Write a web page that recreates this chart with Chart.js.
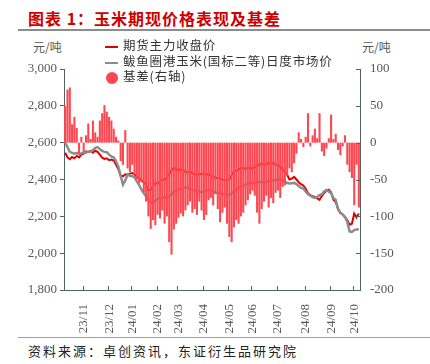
<!DOCTYPE html>
<html>
<head>
<meta charset="utf-8">
<script src="https://cdn.jsdelivr.net/npm/chart.js@4/dist/chart.umd.min.js"></script>
<style>
  body { margin: 0; width: 430px; height: 364px; background: #fff; position: relative; overflow: hidden;
         font-family: "Noto Sans CJK SC", sans-serif; }
  .abs { position: absolute; white-space: nowrap; }
  #title { left: 28px; top: 6px; color: #d00000; font-size: 16px; font-weight: bold; letter-spacing: 1px; }
  #titleLine { left: 18px; top: 29px; width: 412px; height: 2px; background: #8c8c8c; }
  #footLine { left: 18px; top: 337px; width: 412px; height: 1px; background: #a0a0a0; }
  #foot { left: 28px; top: 341px; font-size: 13px; color: #222; letter-spacing: 2px; }
  .unit { top: 38px; font-size: 12px; color: #555; }
  #chartBox { left: 0; top: 30px; width: 430px; height: 306px; }
  .leg { font-size: 12.5px; color: #333; left: 105px; letter-spacing: 0.8px; }
  .leg i { display: inline-block; vertical-align: middle; margin-right: 5px; }
</style>
</head>
<body>
<div class="abs" id="title">图表 1：玉米期现价格表现及基差</div>
<div class="abs" id="titleLine"></div>
<div class="abs unit" style="left:33px">元/吨</div>
<div class="abs unit" style="left:362px">元/吨</div>
<div class="abs" id="chartBox"><canvas id="chart" width="430" height="306"></canvas></div>
<div class="abs leg" style="top:35px"><i style="width:13px;height:2px;background:#e00000"></i>期货主力收盘价</div>
<div class="abs leg" style="top:51px"><i style="width:13px;height:2px;background:#8c8c8c"></i>鲅鱼圈港玉米(国标二等)日度市场价</div>
<div class="abs leg" style="top:66px;left:106px"><i style="width:12px;height:12px;border-radius:50%;background:#ff4650"></i>基差(右轴)</div>
<div class="abs" id="footLine"></div>
<div class="abs" id="foot">资料来源：卓创资讯，东证衍生品研究院</div>

<script>
// month labels and how many points fall in each month (first block is the tail of 23/10, unlabeled)
const months = ['', '23/11', '23/12', '24/01', '24/02', '24/03', '24/04', '24/05', '24/06', '24/07', '24/08', '24/09', '24/10'];
const monthCounts = [8, 11, 10, 11, 9, 11, 11, 10, 11, 12, 11, 10, 3];

// 期货主力收盘价
const futures = [
  2545, 2520, 2510, 2522, 2515, 2528, 2520, 2535, 2540, 2552, 2548, 2555, 2545, 2556, 2550, 2535,
  2518, 2512, 2515, 2505, 2508, 2503, 2480, 2455, 2420, 2418, 2428, 2425, 2432, 2435, 2428, 2414,
  2408, 2395, 2385, 2370, 2340, 2345, 2365, 2380, 2378, 2390, 2400, 2398, 2410, 2430, 2450, 2465,
  2458, 2450, 2455, 2448, 2442, 2438, 2445, 2435, 2428, 2425, 2430, 2428, 2432, 2425, 2430, 2420,
  2415, 2410, 2408, 2405, 2400, 2398, 2395, 2400, 2425, 2445, 2448, 2455, 2460, 2462, 2458, 2465,
  2462, 2460, 2468, 2475, 2480, 2488, 2478, 2482, 2490, 2485, 2492, 2480, 2478, 2470, 2455, 2440,
  2425, 2400, 2405, 2414, 2400, 2385, 2375, 2368, 2350, 2325, 2315, 2310, 2305, 2298, 2290, 2310,
  2327, 2340, 2345, 2330, 2290, 2278, 2240, 2218, 2210, 2196, 2180, 2155, 2160, 2215, 2195, 2215
];

// 鲅鱼圈港玉米(国标二等)日度市场价
const spot = [
  2600, 2575, 2550, 2545, 2540, 2545, 2538, 2542, 2548, 2545, 2552, 2550, 2560, 2572, 2576, 2565,
  2555, 2550, 2548, 2535, 2525, 2520, 2500, 2470, 2420, 2372, 2395, 2428, 2420, 2418, 2412, 2390,
  2370, 2345, 2325, 2310, 2290, 2275, 2272, 2285, 2295, 2300, 2298, 2305, 2302, 2310, 2320, 2335,
  2340, 2345, 2350, 2352, 2358, 2355, 2350, 2345, 2340, 2338, 2335, 2332, 2335, 2340, 2343, 2340,
  2335, 2330, 2327, 2325, 2320, 2318, 2316, 2316, 2325, 2335, 2345, 2354, 2360, 2365, 2372, 2378,
  2380, 2381, 2383, 2385, 2386, 2387, 2387, 2388, 2390, 2392, 2395, 2397, 2398, 2398, 2397, 2390,
  2381, 2378, 2380, 2382, 2375, 2365, 2355, 2350, 2335, 2320, 2312, 2305, 2300, 2305, 2315, 2320,
  2335, 2343, 2335, 2325, 2300, 2289, 2240, 2220, 2210, 2196, 2170, 2118, 2115, 2125, 2128, 2130
];

// 基差(右轴)
const basis = [
  50, 72, 75, 25, 35, 20, -15, 8, -12, 10, 26, 5, 30, 14, 8, 30,
  40, 51, 42, 35, 30, 19, 8, 3, -25, -30, 17, -35, -40, -30, -44, -50,
  -55, -53, -67, -80, -100, -117, -105, -112, -98, -103, -92, -110, -100, -135, -152, -118,
  -110, -102, -96, -100, -92, -85, -80, -95, -90, -98, -80, -92, -105, -98, -78, -75,
  -85, -70, -90, -108, -95, -88, -110, -128, -135, -115, -105, -110, -100, -95, -85, -78,
  -70, -65, -72, -95, -110, -90, -80, -72, -88, -75, -82, -68, -65, -75, -60, -58,
  -45, -35, -40, -28, -15, 14, 5, -6, 8, 40, -5, 10, 19, 6, 40, -12,
  -18, -8, 6, 38, 5, 12, -10, -17, -5, 10, -30, -40, -48, -85, -30, -88
];

const leftTicks = [1800, 2000, 2200, 2400, 2600, 2800, 3000];
const rightTicks = [-200, -150, -100, -50, 0, 50, 100];

const labels = [];
const monthStarts = [];
months.forEach((m, k) => {
  monthStarts.push(labels.length);
  for (let j = 0; j < monthCounts[k]; j++) labels.push(j === 0 ? m : '');
});

const axisColor = '#506464';
const tickFont = { family: '"Liberation Serif", "Times New Roman", serif', size: 13 };

// inward tick marks for the right axis and the x axis
const innerTicks = {
  id: 'innerTicks',
  afterDraw(chart) {
    const { ctx, chartArea } = chart;
    const x = chart.scales.x, y2 = chart.scales.y2;
    ctx.save();
    ctx.strokeStyle = axisColor;
    ctx.lineWidth = 1;
    ctx.beginPath();
    rightTicks.forEach(v => {
      const py = Math.round(y2.getPixelForValue(v)) + 0.5;
      ctx.moveTo(chartArea.right - 4, py);
      ctx.lineTo(chartArea.right, py);
    });
    const step = x.getPixelForValue(1) - x.getPixelForValue(0);
    monthStarts.forEach((i, k) => {
      if (!months[k]) return;
      const px = Math.round(x.getPixelForValue(i) - step / 2) + 0.5;
      ctx.moveTo(px, chartArea.bottom - 4);
      ctx.lineTo(px, chartArea.bottom);
    });
    ctx.stroke();
    ctx.restore();
  }
};

new Chart(document.getElementById('chart'), {
  type: 'bar',
  data: {
    labels: labels,
    datasets: [
      {
        label: '基差(右轴)',
        data: basis,
        yAxisID: 'y2',
        backgroundColor: '#ff4650',
        barPercentage: 0.9,
        categoryPercentage: 1,
        order: 0
      },
      {
        label: '鲅鱼圈港玉米(国标二等)日度市场价',
        type: 'line',
        data: spot,
        yAxisID: 'y',
        borderColor: '#8c8c8c',
        borderWidth: 2.5,
        pointRadius: 0,
        tension: 0,
        order: 1
      },
      {
        label: '期货主力收盘价',
        type: 'line',
        data: futures,
        yAxisID: 'y',
        borderColor: '#e00000',
        borderWidth: 2,
        pointRadius: 0,
        tension: 0,
        order: 2
      }
    ]
  },
  options: {
    responsive: false,
    animation: false,
    layout: { padding: { top: 39, left: 0, right: 0, bottom: 0 } },
    plugins: { legend: { display: false }, tooltip: { enabled: false } },
    scales: {
      x: {
        offset: true,
        afterFit: s => { s.height = 46; },
        grid: { display: false },
        border: { color: axisColor },
        ticks: {
          autoSkip: false,
          maxRotation: 90,
          minRotation: 90,
          padding: 6,
          color: '#595959',
          font: tickFont,
          callback: (v, i) => labels[i] || null
        }
      },
      y: {
        position: 'left',
        min: 1800,
        max: 3000,
        afterFit: s => { s.width = 64; },
        afterBuildTicks: s => { s.ticks = leftTicks.map(v => ({ value: v })); },
        grid: { drawOnChartArea: false, tickLength: 4, color: axisColor },
        border: { color: axisColor },
        ticks: {
          padding: 3,
          color: '#595959',
          font: tickFont,
          callback: v => v.toLocaleString('en-US')
        }
      },
      y2: {
        position: 'right',
        min: -200,
        max: 100,
        afterFit: s => { s.width = 70; },
        afterBuildTicks: s => { s.ticks = rightTicks.map(v => ({ value: v })); },
        grid: { display: false },
        border: { color: axisColor },
        ticks: { padding: 2, color: '#595959', font: tickFont }
      }
    }
  },
  plugins: [innerTicks]
});
</script>
</body>
</html>
